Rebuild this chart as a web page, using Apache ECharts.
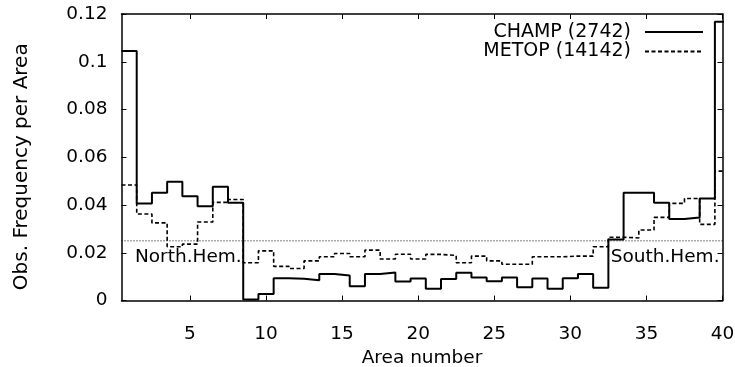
<!DOCTYPE html>
<html><head><meta charset="utf-8">
<script src="https://cdn.jsdelivr.net/npm/echarts@6/dist/echarts.min.js"></script>
<style>html,body{margin:0;padding:0;background:#fff}#c{width:735px;height:367px}</style>
</head><body><div id="c"></div>
<script>
const areas = [1,2,3,4,5,6,7,8,9,10,11,12,13,14,15,16,17,18,19,20,21,22,23,24,25,26,27,28,29,30,31,32,33,34,35,36,37,38,39,40];
const champ = [0.1045,0.0406,0.0451,0.0497,0.0437,0.0395,0.0476,0.0409,0.0004,0.0027,0.0093,0.0091,0.0085,0.0111,0.0105,0.0060,0.0111,0.0117,0.0080,0.0092,0.0049,0.0090,0.0116,0.0096,0.0081,0.0096,0.0056,0.0092,0.0049,0.0093,0.0111,0.0053,0.0256,0.0451,0.0451,0.0409,0.0341,0.0348,0.0427,0.1168];
const metop = [0.0484,0.0362,0.0325,0.0225,0.0236,0.0329,0.0411,0.0423,0.0158,0.0208,0.0143,0.0134,0.0166,0.0183,0.0197,0.0183,0.0211,0.0174,0.0194,0.0174,0.0193,0.0189,0.0158,0.0186,0.0166,0.0152,0.0152,0.0183,0.0183,0.0186,0.0186,0.0225,0.0265,0.0262,0.0295,0.0348,0.0407,0.0427,0.0319,0.0542];
const xTicks = [5,10,15,20,25,30,35,40];
const xRange = [0.5, 40];
const seriesNames = ['CHAMP (2742)','METOP (14142)'];
const refLevel = 0.025;
const regionLabels = ['North.Hem.','South.Hem.'];
const regionX = [1.38, 32.65];
const regionY = [0.0183, 0.0183];

const FONT = 'DejaVu Sans';
function edges(vals){
  const d = areas.map((a,i)=>[a-0.5, vals[i]]);
  d.push([areas[areas.length-1]+0.5, vals[vals.length-1]]);
  return d;
}
const axisLine = {show:true, onZero:false, lineStyle:{color:'#000', width:1.5}};
const tick = (cv)=>({show:true, inside:true, length:5, lineStyle:{color:'#000', width:1}, customValues: cv});
const chart = echarts.init(document.getElementById('c'), null, {renderer:'canvas'});
chart.setOption({
  animation:false,
  backgroundColor:'#fff',
  grid:{left:121.5, right:12.5, top:14, bottom:66.5, containLabel:false, outerBoundsMode:'none'},
  legend:{
    data:seriesNames, orient:'vertical', right:31, top:22.5, align:'right',
    itemWidth:58, itemHeight:18, itemGap:0.5, padding:0,
    itemStyle:{opacity:0},
    textStyle:{fontSize:19, fontFamily:FONT, color:'#000', padding:[0,9,0,0], lineHeight:18}
  },
  xAxis:[
    {type:'value', min:xRange[0], max:xRange[1], position:'bottom', axisLine:axisLine, axisTick:tick(xTicks),
     axisLabel:{customValues:xTicks, margin:24, color:'#000', fontSize:18.5, fontFamily:FONT},
     splitLine:{show:false}, name:'Area number', nameLocation:'middle', nameGap:40,
     nameTextStyle:{color:'#000', fontSize:18.5, fontFamily:FONT}},
    {type:'value', min:xRange[0], max:xRange[1], position:'top', axisLine:axisLine, axisTick:tick(xTicks),
     axisLabel:{show:false, customValues:xTicks}, splitLine:{show:false}}
  ],
  yAxis:[
    {type:'value', min:0, max:0.12, interval:0.02, position:'left', axisLine:axisLine,
     axisTick:{show:true, inside:true, length:5, lineStyle:{color:'#000', width:1}},
     axisLabel:{margin:14, color:'#000', fontSize:18.5, fontFamily:FONT},
     splitLine:{show:false}, name:'Obs. Frequency per Area', nameLocation:'middle', nameGap:90, nameRotate:90,
     nameTextStyle:{color:'#000', fontSize:20, fontFamily:FONT, padding:[0,19,0,0]}},
    {type:'value', min:0, max:0.12, interval:0.02, position:'right', axisLine:axisLine,
     axisTick:{show:true, inside:true, length:5, lineStyle:{color:'#000', width:1}},
     axisLabel:{show:false}, splitLine:{show:false}}
  ],
  series:[
    {name:seriesNames[0], type:'line', step:'end', symbol:'none', data:edges(champ),
     lineStyle:{color:'#000', width:2}, itemStyle:{color:'#000'}, z:3,
     markPoint:{silent:true, symbol:'rect', symbolSize:0,
       label:{show:true, position:'right', distance:0, color:'#000', fontSize:18.5, fontFamily:FONT, formatter:'{b}'},
       data: regionLabels.map((n,i)=>({name:n, coord:[regionX[i], regionY[i]]}))}
    },
    {name:seriesNames[1], type:'line', step:'end', symbol:'none', data:edges(metop),
     lineStyle:{color:'#000', width:1.6, type:[4,2.5]}, itemStyle:{color:'#000'}, z:2},
    {name:'ref', type:'line', symbol:'none', silent:true, data:[[xRange[0], refLevel],[xRange[1], refLevel]],
     lineStyle:{color:'#000', width:1, type:[1,2]}, z:1}
  ]
});
</script></body></html>
